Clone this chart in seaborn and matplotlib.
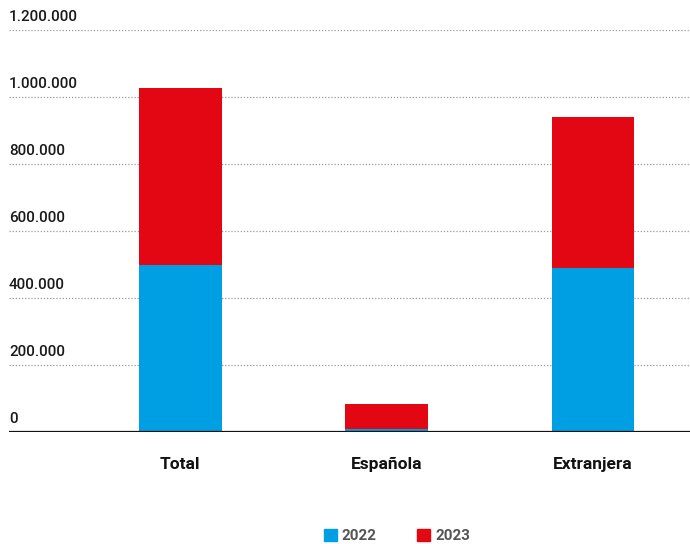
import numpy as np
import pandas as pd
import matplotlib
matplotlib.use("Agg")
import matplotlib.pyplot as plt
import seaborn as sns
from matplotlib.patches import Patch

categories = ["Total", "Española", "Extranjera"]
values_2022 = [500000, 10000, 489000]
values_2023 = [527000, 73500, 450000]
y_ticks = [0, 200000, 400000, 600000, 800000, 1000000, 1200000]

BLUE = "#009FE3"
RED = "#E30613"

sns.set_theme(style="white")
plt.rcParams["font.family"] = ["Roboto", "DejaVu Sans"]

df = pd.DataFrame({
    "cat": categories,
    "y2022": values_2022,
    "total": np.array(values_2022) + np.array(values_2023),
})

fig = plt.figure(figsize=(6.9, 5.44), dpi=100)
ax = fig.add_axes([9 / 690, 112 / 544, 681 / 690, (432 - 30) / 544])

# stacked look: full total in red, 2022 drawn over it in blue
sns.barplot(data=df, x="cat", y="total", color=RED, width=0.4,
            saturation=1, edgecolor="none", ax=ax)
sns.barplot(data=df, x="cat", y="y2022", color=BLUE, width=0.4,
            saturation=1, edgecolor="none", ax=ax)

ax.set_ylim(0, 1200000)
ax.set_xlim(-0.83, 2.47)

for t in y_ticks:
    if t > 0:
        ax.axhline(t, color="#999999", lw=0.9, ls=(0, (1, 1.5)), zorder=0)
    lbl = f"{t:,}".replace(",", ".")
    ax.annotate(lbl, xy=(0, t), xycoords=("axes fraction", "data"),
                xytext=(0, 4.5), textcoords="offset points",
                ha="left", va="bottom", fontsize=11, fontweight="medium",
                color="#1a1a1a")
ax.axhline(0, color="#111111", lw=1.6, zorder=3)

ax.set_yticks([])
ax.set_xlabel("")
ax.set_ylabel("")
ax.tick_params(axis="x", length=0, pad=18)
for lab in ax.get_xticklabels():
    lab.set_fontweight("bold")
    lab.set_fontsize(12.5)
    lab.set_color("#111111")
sns.despine(ax=ax, left=True, bottom=True)

handles = [Patch(color=BLUE, label="2022"), Patch(color=RED, label="2023")]
leg = fig.legend(handles=handles, loc="center", bbox_to_anchor=(0.575, 0.015),
                 ncol=2, frameon=False, handlelength=0.9, handleheight=0.9,
                 handletextpad=0.3, columnspacing=2.6, fontsize=11)
for txt in leg.get_texts():
    txt.set_fontweight("bold")
    txt.set_color("#555555")

fig.savefig("out.png", dpi=100)
